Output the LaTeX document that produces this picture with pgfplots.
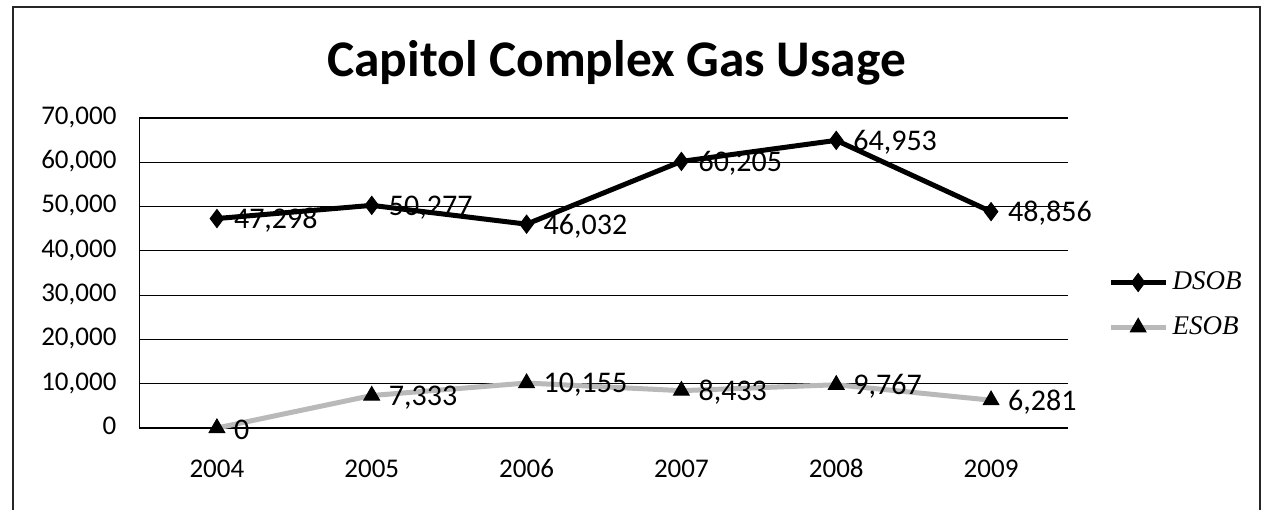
\documentclass[border=0pt]{standalone}
\usepackage{fontspec}
\setmainfont{Carlito}
\newfontfamily\legfont{Liberation Serif}
\usepackage{pgfplots}
\pgfplotsset{compat=1.18}

\begin{document}
\begin{tikzpicture}
% 1 px of the reference = 0.5pt; axis origin at pixel (139.5, 428)
\useasboundingbox (-69.75pt,-40.5pt) rectangle (561.75pt,214pt);
\draw[line width=1pt, black!85] (-63.25pt,-45pt) -- (-63.25pt,210.5pt) -- (560.25pt,210.5pt) -- (560.25pt,-45pt);
\begin{axis}[
    scale only axis,
    width=464.5pt, height=155pt,
    at={(0,0)}, anchor=south west,
    xmin=2003.5, xmax=2009.5,
    ymin=0, ymax=70000,
    xtick={2004,2005,2006,2007,2008,2009},
    ytick={0,10000,20000,30000,40000,50000,60000,70000},
    axis x line=bottom, axis y line=left,
    axis line style={-, black, line width=0.8pt},
    major tick length=0pt,
    ymajorgrids,
    grid style={black, line width=0.6pt},
    /pgf/number format/assume math mode=true,
    /pgf/number format/1000 sep={,},
    typeset ticklabels with strut,
    xticklabel style={/pgf/number format/1000 sep={}, yshift=-10pt},
    yticklabel style={xshift=-8pt},
    tick label style={font=\fontsize{13.5}{16}\selectfont},
    scaled y ticks=false,
    clip=false,
    nodes near coords,
    every node near coord/.append style={anchor=west, xshift=5pt, yshift=-1pt,
        font=\fontsize{15}{18}\selectfont, text=black},
    legend style={at={(1.0425,0.397)}, anchor=west, draw=none, fill=none,
        font=\legfont\itshape\fontsize{13.5}{15}\selectfont,
        row sep=8pt, inner sep=0pt},
    legend cell align=left,
    legend image code/.code={
        \draw[mark repeat=2, mark phase=2] plot coordinates {(0cm,0cm) (0.48cm,0cm) (0.97cm,0cm)};
    },
]
\addplot[black, line width=2.5pt, mark=diamond*, mark size=4.5pt,
    mark options={solid, fill=black, line width=0.5pt}] coordinates {
    (2004,47298) (2005,50277) (2006,46032) (2007,60205) (2008,64953) (2009,48856)
};
\addlegendentry{DSOB}
\addplot[gray!55, line width=2.5pt, mark=triangle*, mark size=4.5pt,
    mark options={solid, fill=black, draw=black, line width=0.5pt}] coordinates {
    (2004,0) (2005,7333) (2006,10155) (2007,8433) (2008,9767) (2009,6281)
};
\addlegendentry{ESOB}
\end{axis}
\node[font=\fontsize{25.7}{30}\selectfont\bfseries] at (238.5pt,182.5pt) {Capitol Complex Gas Usage};
\end{tikzpicture}
\end{document}
